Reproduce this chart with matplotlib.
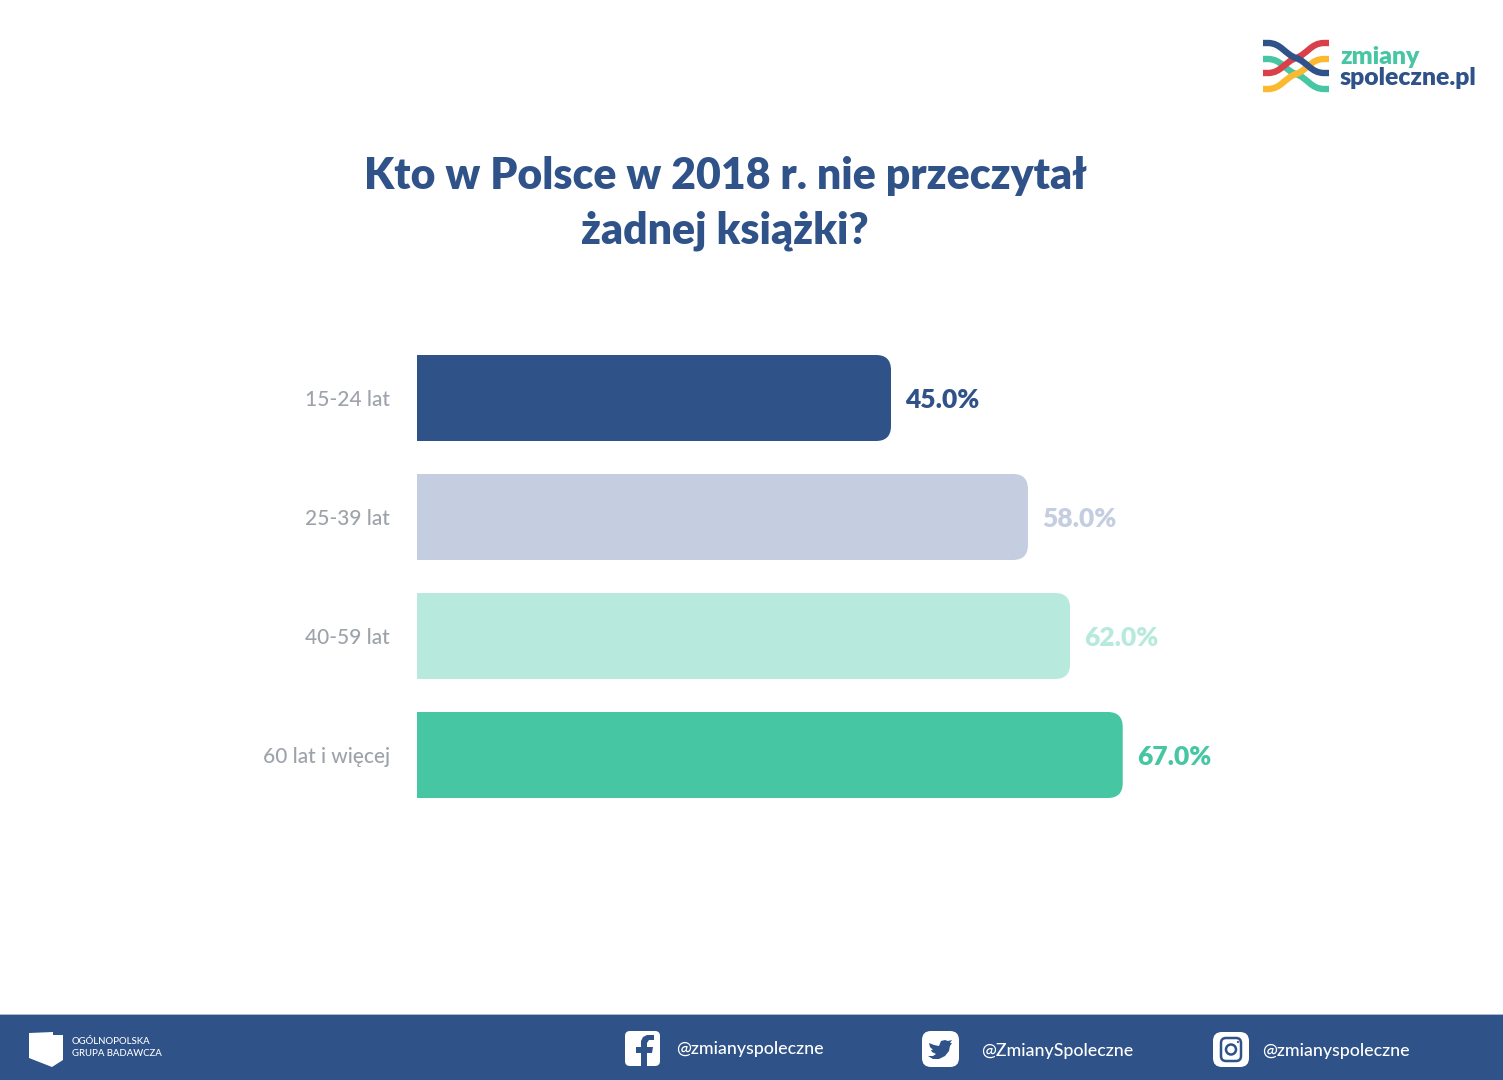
import matplotlib
matplotlib.use("Agg")
import matplotlib.pyplot as plt
from matplotlib.path import Path
from matplotlib.patches import PathPatch, Rectangle, FancyBboxPatch, Polygon, Circle

categories = ["15-24 lat", "25-39 lat", "40-59 lat", "60 lat i więcej"]
values = [45.0, 58.0, 62.0, 67.0]
value_labels = ["45.0%", "58.0%", "62.0%", "67.0%"]
bar_colors = ["#2f5289", "#c5cde0", "#b7eadc", "#47c6a3"]
title_lines = ["Kto w Polsce w 2018 r. nie przeczytał", "żadnej książki?"]
NAVY = "#2f5289"

W, H = 1503, 1080
fig = plt.figure(figsize=(W / 100, H / 100), dpi=100, facecolor="white")

# page furniture in pixel coordinates
bg = fig.add_axes([0, 0, 1, 1], zorder=0)
bg.set_xlim(0, W)
bg.set_ylim(H, 0)
bg.axis("off")

bg.text(725, 203.5, "\n".join(title_lines), ha="center", va="center", family="Lato", weight="heavy",
        fontsize=30.8, color=NAVY, linespacing=1.44)

# footer
bg.add_patch(Rectangle((0, 1015), W, 65, fc=NAVY, ec="none"))
bg.add_patch(Rectangle((0, 1014), W, 1, fc="#a9b8d4", ec="none"))
bg.add_patch(Polygon([(29, 1033), (53, 1032), (53, 1035), (63, 1035), (63, 1060), (52, 1067), (29, 1058)],
                     fc="white", ec="none"))
bg.text(72, 1041, "OGÓLNOPOLSKA", color="white", family="Lato", weight="medium", fontsize=6.9, va="center", ha="left")
bg.text(72, 1054, "GRUPA BADAWCZA", color="white", family="Lato", weight="medium", fontsize=6.9, va="center", ha="left")


def rounded(x, y, w, h, r, **kw):
    bg.add_patch(FancyBboxPatch((x + r, y + r), w - 2 * r, h - 2 * r,
                                boxstyle=f"round,pad={r},rounding_size={r}", ec="none", **kw))


# facebook
rounded(625, 1031, 35, 35, 5, fc="white")
bg.add_patch(Polygon([(647, 1066), (647, 1053), (652, 1053), (653, 1047), (647, 1047), (647, 1043),
                      (649, 1040), (654, 1040), (654, 1035), (647, 1035), (643, 1037), (641, 1041),
                      (641, 1047), (636, 1047), (636, 1053), (641, 1053), (641, 1066)], fc=NAVY, ec="none"))
# twitter
rounded(922, 1031, 37, 36, 9, fc="white")
bg.add_patch(Polygon([(929, 1043), (934, 1045), (939, 1046), (941, 1041), (945, 1040), (948, 1041),
                      (952, 1040), (950, 1043), (952, 1043), (950, 1046), (949, 1051), (945, 1056),
                      (939, 1059), (933, 1059), (928, 1056), (933, 1056), (936, 1054), (932, 1052),
                      (931, 1050), (933, 1050), (930, 1047)], fc=NAVY, ec="none"))
# instagram
rounded(1213, 1032, 36, 35, 9, fc="white")
bg.add_patch(FancyBboxPatch((1224, 1041), 14, 17, boxstyle="round,pad=3,rounding_size=5",
                            fc="none", ec=NAVY, lw=1.8))
bg.add_patch(Circle((1231, 1049.5), 5, fc="none", ec=NAVY, lw=1.8))
bg.add_patch(Circle((1238, 1042), 1.1, fc=NAVY, ec="none"))

for x, y, s in [(676, 1049, "@zmianyspoleczne"), (981, 1051, "@ZmianySpoleczne"), (1262, 1051, "@zmianyspoleczne")]:
    bg.text(x, y, s, color="white", family="Lato", weight="medium", fontsize=12.8, va="center", ha="left")


# logo
def strand(y0, y1, color):
    x0, x1 = 1263, 1329
    ym = (y0 + y1) / 2
    p = Path([(x0, y0), (x0 + 5, y0), (x0 + 18, y0), (x0 + 22, ym - (y1 - y0) * 0.12), (1296, ym),
              (x1 - 22, ym + (y1 - y0) * 0.12), (x1 - 18, y1), (x1 - 5, y1), (x1, y1)],
             [Path.MOVETO, Path.LINETO, Path.CURVE4, Path.CURVE4, Path.CURVE4,
              Path.CURVE4, Path.CURVE4, Path.CURVE4, Path.LINETO])
    bg.add_patch(PathPatch(p, fc="none", ec=color, lw=4.6, capstyle="butt"))


strand(59, 89, "#47c6a3")
strand(89, 59, "#fbb92f")
strand(73, 43, "#d9404a")
strand(43, 73, NAVY)
bg.text(1340, 57, "zmiany", color="#47c6a3", family="Lato", weight="heavy", fontsize=17.8, va="center", ha="left")
bg.text(1340, 78, "spoleczne.pl", color=NAVY, family="Lato", weight="heavy", fontsize=17.8, va="center", ha="left")

# chart axes: spans 417..1300 px horizontally, 338.5..814.5 px vertically
left, right, top, bottom = 417, 1300, 338.5, 814.5
ax = fig.add_axes([left / W, 1 - bottom / H, (right - left) / W, (bottom - top) / H], zorder=1)
ax.patch.set_alpha(0)
px_per_unit = 474 / 45.0
ax.set_xlim(0, (right - left) / px_per_unit)
ax.set_ylim(3.5, -0.5)
bar_h = 86 / 119
pos = list(range(len(categories)))
bars = ax.barh(pos, values, height=bar_h, color=bar_colors, edgecolor="none")

# rounded right-hand corners, applied as clip shapes around each bar
rx = 15 / px_per_unit
ry = 15 / 119
for b, v, c in zip(bars, values, pos):
    t, m = c - bar_h / 2, c + bar_h / 2
    clip = Path([(0, t), (v - rx, t), (v, t), (v, t + ry), (v, m - ry), (v, m), (v - rx, m), (0, m), (0, t)],
                [Path.MOVETO, Path.LINETO, Path.CURVE3, Path.CURVE3, Path.LINETO, Path.CURVE3, Path.CURVE3,
                 Path.LINETO, Path.CLOSEPOLY])
    b.set_clip_path(clip, ax.transData)

for v, c, s, col in zip(values, pos, value_labels, bar_colors):
    ax.annotate(s, (v, c), xytext=(10.2, -1.3), textcoords="offset points", va="center", ha="left",
                family="Lato", weight="heavy", fontsize=19, color=col)

ax.set_yticks(pos, categories, family="Lato", weight="medium", fontsize=15, color="#9ea3ab")
ax.tick_params(axis="y", length=0, pad=19.5)
ax.set_xticks([])
for s in ax.spines.values():
    s.set_visible(False)

fig.savefig("out.png", dpi=100, facecolor="white")
